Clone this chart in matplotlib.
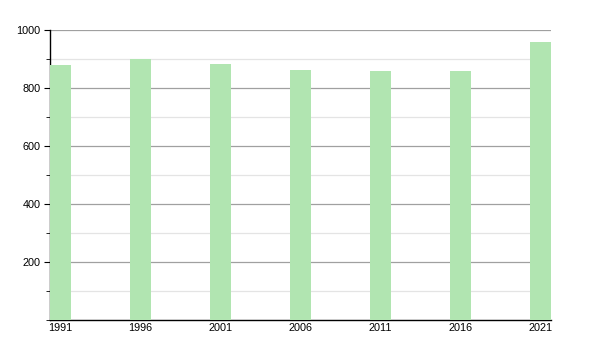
import matplotlib.pyplot as plt
from matplotlib.ticker import MultipleLocator

# population by census year
years = [1991, 1996, 2001, 2006, 2011, 2016, 2021]
population = [879, 900, 883, 862, 859, 859, 959]

bar_w = 1.3125
plt.rcParams['font.family'] = ['Liberation Sans', 'DejaVu Sans']

fig = plt.figure(figsize=(6, 3.5), dpi=100)
ax = fig.add_axes([50/600, 1-320/350, 501/600, 290/350])

ax.bar(years, population, width=bar_w, align='edge', color='#b1e5b1', zorder=3)

ax.set_xlim(years[0], years[-1] + bar_w)
ax.set_ylim(0, 1000)
ax.set_xticks([y + bar_w/2 for y in years])
ax.set_xticklabels([str(y) for y in years])
ax.yaxis.set_major_locator(MultipleLocator(200))
ax.yaxis.set_minor_locator(MultipleLocator(100))
ax.set_yticks([200, 400, 600, 800, 1000])

ax.grid(axis='y', which='major', color='#a0a0a0', linewidth=0.9, zorder=0)
ax.grid(axis='y', which='minor', color='#e4e4e4', linewidth=0.9, zorder=0)

for s in ['top', 'right']:
    ax.spines[s].set_visible(False)
ax.spines['left'].set_linewidth(1.0)
ax.spines['bottom'].set_linewidth(1.0)

ax.tick_params(axis='x', length=0, pad=2, labelsize=7.8)
ax.tick_params(axis='y', which='major', length=4, pad=3, labelsize=7.8)
ax.tick_params(axis='y', which='minor', length=3)

fig.savefig('out.png', dpi=100)
